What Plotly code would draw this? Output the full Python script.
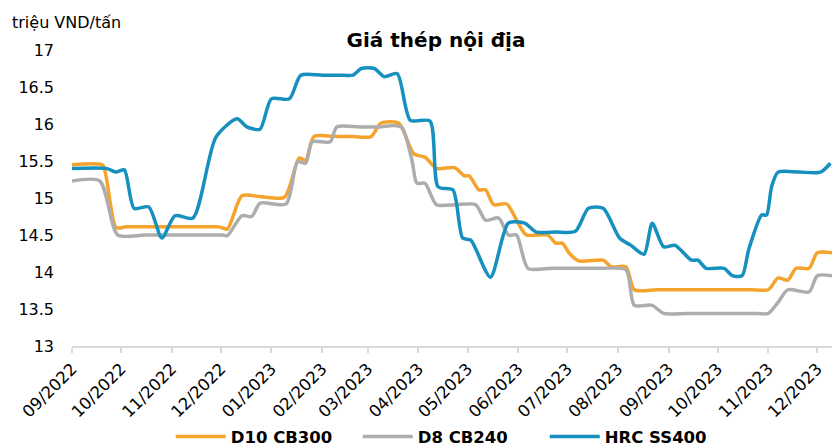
import plotly.graph_objects as go

# D10 CB300
d10_dates = ["2022-09-01","2022-09-16","2022-09-20","2022-09-28","2022-10-04","2022-10-20","2022-11-05",
             "2022-11-20","2022-11-30","2022-12-05","2022-12-14","2022-12-25","2023-01-09","2023-01-18",
             "2023-01-22","2023-01-27","2023-02-10","2023-02-20","2023-03-03","2023-03-09","2023-03-20",
             "2023-03-29","2023-04-05","2023-04-12","2023-04-23","2023-04-29","2023-05-02","2023-05-08",
             "2023-05-12","2023-05-17","2023-05-25","2023-06-01","2023-06-06","2023-06-19","2023-06-24",
             "2023-06-28","2023-07-02","2023-07-08","2023-07-23","2023-07-28","2023-08-06","2023-08-11",
             "2023-08-25","2023-09-10","2023-09-25","2023-10-10","2023-10-22","2023-11-01","2023-11-07",
             "2023-11-13","2023-11-18","2023-11-26","2023-12-01","2023-12-10"]
d10_values = [15.45,15.46,15.44,14.60,14.61,14.61,14.61,
              14.61,14.61,14.58,15.03,15.02,15.01,15.54,
              15.51,15.83,15.83,15.83,15.83,16.01,16.01,
              15.60,15.55,15.40,15.41,15.30,15.30,15.11,
              15.11,14.91,14.92,14.66,14.50,14.50,14.39,
              14.39,14.26,14.15,14.16,14.07,14.07,13.76,
              13.76,13.76,13.76,13.76,13.76,13.76,13.92,
              13.89,14.05,14.05,14.26,14.26]

# D8 CB240
d8_dates = ["2022-09-01","2022-09-18","2022-09-29","2022-10-15","2022-10-31","2022-11-15","2022-12-02",
            "2022-12-05","2022-12-14","2022-12-20","2022-12-25","2023-01-10","2023-01-17","2023-01-22",
            "2023-01-26","2023-02-06","2023-02-10","2023-02-24","2023-03-08","2023-03-17","2023-03-22",
            "2023-03-28","2023-03-31","2023-04-05","2023-04-12","2023-04-24","2023-05-06","2023-05-12",
            "2023-05-20","2023-05-26","2023-05-31","2023-06-07","2023-06-22","2023-07-07","2023-07-22",
            "2023-08-06","2023-08-11","2023-08-22","2023-08-29","2023-09-12","2023-09-27","2023-10-12",
            "2023-10-25","2023-11-01","2023-11-07","2023-11-13","2023-11-26","2023-12-01","2023-12-10"]
d8_values = [15.23,15.23,14.50,14.50,14.50,14.50,14.50,
             14.49,14.76,14.75,14.93,14.92,15.49,15.47,
             15.76,15.76,15.96,15.96,15.96,15.98,15.95,
             15.51,15.20,15.20,14.91,14.91,14.91,14.70,
             14.73,14.50,14.50,14.05,14.05,14.05,14.05,
             14.03,13.55,13.55,13.44,13.44,13.44,13.44,
             13.44,13.44,13.59,13.76,13.73,13.95,13.95]

# HRC SS400
hrc_dates = ["2022-09-01","2022-09-22","2022-09-28","2022-10-03","2022-10-09","2022-10-18","2022-10-26",
             "2022-11-03","2022-11-14","2022-11-28","2022-12-11","2022-12-17","2022-12-25","2023-01-01",
             "2023-01-12","2023-01-19","2023-02-01","2023-02-12","2023-02-20","2023-02-25","2023-03-05",
             "2023-03-11","2023-03-19","2023-03-27","2023-04-08","2023-04-13","2023-04-22","2023-04-28",
             "2023-05-03","2023-05-15","2023-05-26","2023-06-05","2023-06-12","2023-06-24","2023-07-06",
             "2023-07-14","2023-07-23","2023-08-02","2023-08-09","2023-08-17","2023-08-22","2023-08-29",
             "2023-09-05","2023-09-15","2023-09-19","2023-09-24","2023-10-05","2023-10-10","2023-10-16",
             "2023-10-20","2023-10-28","2023-10-31","2023-11-03","2023-11-07","2023-11-20","2023-12-03",
             "2023-12-09"]
hrc_values = [15.40,15.40,15.35,15.38,14.86,14.88,14.46,
              14.76,14.73,15.82,16.07,15.96,15.93,16.34,
              16.34,16.66,16.66,16.66,16.66,16.75,16.75,
              16.64,16.68,16.05,16.04,15.15,15.11,14.46,
              14.43,13.93,14.66,14.66,14.54,14.54,14.55,
              14.86,14.86,14.46,14.36,14.24,14.66,14.34,
              14.36,14.16,14.16,14.05,14.05,13.95,13.95,
              14.30,14.77,14.77,15.15,15.35,15.35,15.35,
              15.47]

y_ticks = [13, 13.5, 14, 14.5, 15, 15.5, 16, 16.5, 17]
y_tick_labels = ["13", "13.5", "14", "14.5", "15", "15.5", "16", "16.5", "17"]

series = [
    ("D10 CB300", d10_dates, d10_values, "#F4A32C"),
    ("D8 CB240", d8_dates, d8_values, "#ADADAD"),
    ("HRC SS400", hrc_dates, hrc_values, "#1690BE"),
]

fig = go.Figure()
for name, xs, ys, color in series:
    fig.add_trace(go.Scatter(
        x=xs, y=ys, name=name, mode="lines",
        line=dict(color=color, width=3.5, shape="spline", smoothing=0.7),
    ))

fig.update_layout(
    width=832, height=448,
    margin=dict(l=72, r=0, t=50, b=102, autoexpand=False),
    paper_bgcolor="white", plot_bgcolor="white",
    font=dict(family="DejaVu Sans", color="#000000"),
    title=dict(text="<b>Giá thép nội địa</b>", x=436/832, xref="container", xanchor="center",
               y=1-40/448, yref="container", yanchor="middle",
               font=dict(family="DejaVu Sans", size=20, color="#000000")),
    showlegend=True,
    legend=dict(orientation="h", x=0.499, xanchor="center", y=-0.307, yanchor="middle",
                font=dict(family="DejaVu Sans", size=16.5, color="#000000", weight="bold"),
                itemwidth=50, entrywidth=122, entrywidthmode="pixels",
                bgcolor="rgba(0,0,0,0)"),
    annotations=[dict(text="triệu VND/tấn", xref="paper", yref="paper",
                      x=-62/760, y=(346-22)/296, xanchor="left", yanchor="middle",
                      showarrow=False, font=dict(family="DejaVu Sans", size=16, color="#000000"))],
)

fig.update_xaxes(
    type="date", range=["2022-09-01", "2023-12-10"], automargin=False,
    tickformat="%m/%Y", dtick="M1", tick0="2022-09-01", tickangle=-45,
    ticks="outside", ticklen=5, tickcolor="#D9D9D9", tickwidth=1.5,
    showline=True, linecolor="#D9D9D9", linewidth=1.5,
    showgrid=False, zeroline=False,
    tickfont=dict(family="DejaVu Sans", size=16.5, color="#000000"),
)
fig.update_yaxes(
    range=[13, 17], tickvals=y_ticks, ticktext=y_tick_labels, automargin=False,
    showgrid=False, zeroline=False, showline=False, ticks="",
    ticklabelstandoff=17,
    tickfont=dict(family="DejaVu Sans", size=16, color="#000000"),
)

fig.write_html("out.html", config={"displayModeBar": False},
               post_script="document.body.style.margin='0';document.body.style.overflow='hidden';")
